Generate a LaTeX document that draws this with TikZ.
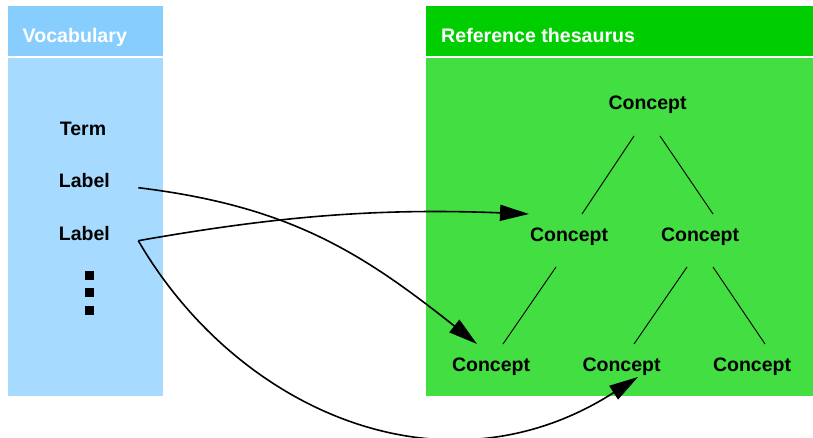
\documentclass[tikz,border=0pt]{standalone}
\usepackage{fontspec}
\setmainfont{Liberation Sans}
\usetikzlibrary{arrows.meta,calc}

\definecolor{vochead}{RGB}{135,206,255}
\definecolor{vocbody}{RGB}{166,219,255}
\definecolor{thshead}{RGB}{0,206,0}
\definecolor{thsbody}{RGB}{66,222,66}

\tikzset{
  txt/.style={font=\fontsize{19.5}{22}\selectfont\bfseries, inner sep=0pt, anchor=base},
  headtxt/.style={font=\fontsize{19.6}{22}\selectfont\bfseries, text=white, inner sep=0pt, anchor=base west},
  tree/.style={line width=0.9pt},
  link/.style={line width=1.6pt, -{Triangle[length=29pt,width=16pt]}},
}

\begin{document}
\begin{tikzpicture}[x=1pt,y=-1pt]
  \useasboundingbox (0,0) rectangle (813,438);

  % panels
  \fill[vochead] (8,6) rectangle (163,56);
  \fill[vocbody] (8,58) rectangle (163,396);
  \fill[thshead] (426,6) rectangle (813,56);
  \fill[thsbody] (426,58) rectangle (813,396);

  % headers
  \node[headtxt] (vh) at (22.5,42.5) {Vocabulary};
  \node[headtxt] (th) at (441,42.5) {Reference thesaurus};

  % vocabulary entries
  \node[txt] (term) at (83,135.7) {Term};
  \node[txt] (l1) at (84.3,187.7) {Label};
  \node[txt] (l2) at (84.3,240.7) {Label};
  \foreach \yy in {275.3,292.8,310.3}
    \fill (85,\yy-4.6) rectangle (94.3,\yy+4.6);

  % concept hierarchy
  \node[txt] (c0) at (647.5,110) {Concept};
  \node[txt] (c1) at (569,241) {Concept};
  \node[txt] (c2) at (700,241) {Concept};
  \node[txt] (c3) at (491,371) {Concept};
  \node[txt] (c4) at (621.5,371) {Concept};
  \node[txt] (c5) at (752,371) {Concept};

  \draw[tree] ($(c0.base)+(-13.5,26)$) -- ($(c1.base)+(13,-27)$);
  \draw[tree] ($(c0.base)+(12.5,26)$) -- ($(c2.base)+(13,-27)$);
  \draw[tree] ($(c1.base)+(-13,26)$) -- ($(c3.base)+(12,-27)$);
  \draw[tree] ($(c2.base)+(-13,26)$) -- ($(c4.base)+(12.5,-27)$);
  \draw[tree] ($(c2.base)+(13,26)$) -- ($(c5.base)+(13,-27)$);

  % mappings from labels to concepts
  \coordinate (s1) at ($(l1.base)+(54,0)$);
  \coordinate (s2) at ($(l2.base)+(54,0)$);
  \coordinate (e1) at ($(c3.base)+(-14,-27)$);
  \coordinate (e2) at ($(c1.base)+(-40,-27)$);
  \coordinate (e3) at ($(c4.base)+(16.5,6)$);

  \draw[link] (s1) .. controls (288,206) and (360,251) .. (e1);
  \draw[link] (s2) .. controls (278,216) and (379,208) .. (e2);
  \draw[link] (s2) .. controls (238,412) and (445,501) .. (e3);
\end{tikzpicture}
\end{document}
